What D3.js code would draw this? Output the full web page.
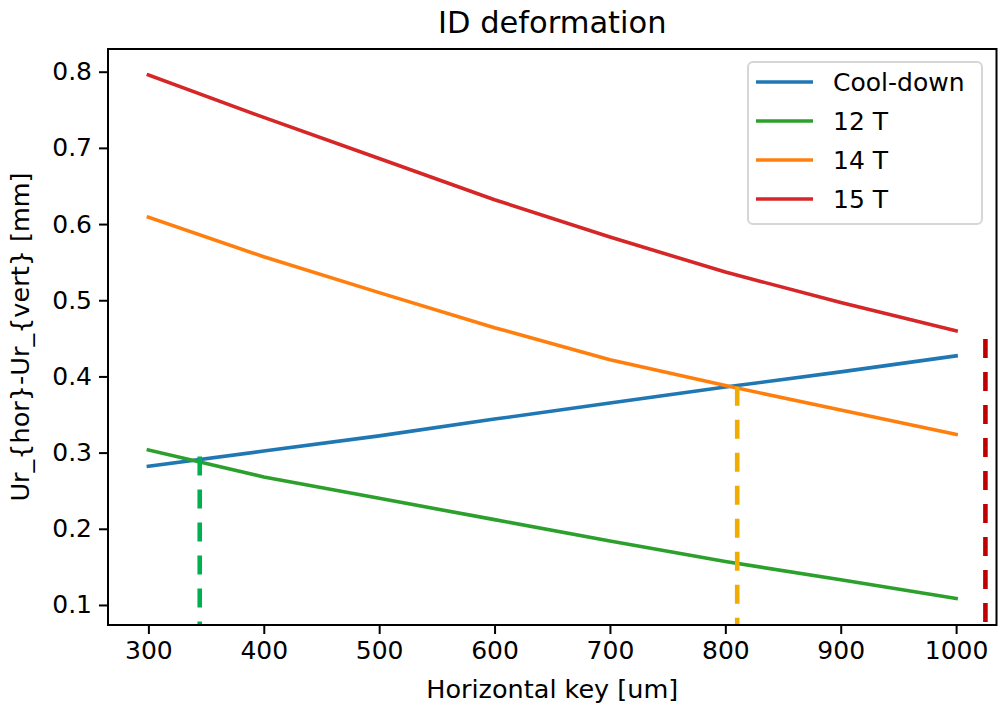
<!DOCTYPE html>
<html>
<head>
<meta charset="utf-8">
<script src="https://cdn.jsdelivr.net/npm/d3@7"></script>
<style>
  body { margin: 0; background: #fff; }
  svg text { font-family: 'DejaVu Sans', sans-serif; }
</style>
</head>
<body>
<script>
// horizontal key positions [um]
var keyX = [300, 400, 500, 600, 700, 800, 900, 1000]

// Ur_hor - Ur_vert [mm]
var coolDown = [0.282, 0.302, 0.322, 0.344, 0.365, 0.386, 0.406, 0.427]
var t12 = [0.3035, 0.268, 0.240, 0.212, 0.184, 0.157, 0.133, 0.1085]
var t14 = [0.609, 0.557, 0.510, 0.464, 0.422, 0.388, 0.356, 0.324]
var t15 = [0.7957, 0.740, 0.686, 0.632, 0.583, 0.537, 0.497, 0.460]

var seriesNames = ['Cool-down', '12 T', '14 T', '15 T']
var seriesColors = ['#1f77b4', '#2ca02c', '#ff7f0e', '#d62728']
var seriesValues = [coolDown, t12, t14, t15]

// vertical dashed markers: key position and top value
var markX = [344.5, 810.3, 1025.4]
var markTop = [0.295, 0.3866, 0.449]
var markColors = ['#00b050', '#f0ad00', '#c00000']

var xTicks = [300, 400, 500, 600, 700, 800, 900, 1000]
var yTicks = [0.1, 0.2, 0.3, 0.4, 0.5, 0.6, 0.7, 0.8]

var W = 999, H = 707
var mLeft = 108, mRight = 996.5, mTop = 49, mBottom = 625

var svg = d3.select('body').append('svg').attr('width', W).attr('height', H)

var x = d3.scaleLinear().domain([265, 1035]).range([mLeft, mRight])
var y = d3.scaleLinear().domain([0.0737, 0.8298]).range([mBottom, mTop])

svg.append('defs').append('clipPath').attr('id', 'clip')
  .append('rect').attr('x', mLeft).attr('y', mTop).attr('width', mRight - mLeft).attr('height', mBottom - mTop)

var plot = svg.append('g').attr('clip-path', 'url(#clip)')

var line = d3.line().x(function (d) { return x(d[0]) }).y(function (d) { return y(d[1]) })

seriesValues.forEach(function (vals, i) {
  plot.append('path')
    .datum(keyX.map(function (k, j) { return [k, vals[j]] }))
    .attr('d', line)
    .attr('fill', 'none')
    .attr('stroke', seriesColors[i])
    .attr('stroke-width', 3.6)
    .attr('stroke-linecap', 'square')
    .attr('stroke-linejoin', 'round')
})

// dashed markers, drawn from top down so the dash starts at the top
markX.forEach(function (mx, i) {
  plot.append('line')
    .attr('x1', x(mx)).attr('x2', x(mx))
    .attr('y1', y(markTop[i])).attr('y2', y(0.05))
    .attr('stroke', markColors[i])
    .attr('stroke-width', 4.6)
    .attr('stroke-dasharray', '19,14')
})

// axes
var xAxis = d3.axisBottom(x).tickValues(xTicks).tickSize(9).tickPadding(7).tickFormat(d3.format('d'))
var yAxis = d3.axisLeft(y).tickValues(yTicks).tickSize(9).tickPadding(7).tickFormat(d3.format('.1f'))

var gx = svg.append('g').attr('transform', 'translate(0,' + mBottom + ')').call(xAxis)
var gy = svg.append('g').attr('transform', 'translate(' + mLeft + ',0)').call(yAxis)
;[gx, gy].forEach(function (g) {
  g.attr('font-family', null).attr('font-size', null)
  g.select('.domain').remove()
  g.selectAll('.tick line').attr('stroke', '#000').attr('stroke-width', 2)
  g.selectAll('.tick text').attr('fill', '#000').style('font-size', '25px')
})

svg.append('rect')
  .attr('x', mLeft).attr('y', mTop).attr('width', mRight - mLeft).attr('height', mBottom - mTop)
  .attr('fill', 'none').attr('stroke', '#000').attr('stroke-width', 2)

// title and labels
svg.append('text').attr('x', (mLeft + mRight) / 2).attr('y', 33).attr('text-anchor', 'middle')
  .style('font-size', '30.5px').text('ID deformation')
svg.append('text').attr('x', (mLeft + mRight) / 2).attr('y', 698).attr('text-anchor', 'middle')
  .style('font-size', '25.5px').text('Horizontal key [um]')
svg.append('text').attr('transform', 'translate(29,' + ((mTop + mBottom) / 2) + ') rotate(-90)')
  .attr('text-anchor', 'middle').style('font-size', '25.5px').text('Ur_{hor}-Ur_{vert} [mm]')

// legend
var lg = svg.append('g')
lg.append('rect').attr('x', 748).attr('y', 62).attr('width', 234).attr('height', 162).attr('rx', 5)
  .attr('fill', '#fff').attr('fill-opacity', 0.8).attr('stroke', '#d6d6d6').attr('stroke-width', 2)
seriesNames.forEach(function (name, i) {
  var ry = 82 + i * 39
  lg.append('line').attr('x1', 756).attr('x2', 813).attr('y1', ry).attr('y2', ry)
    .attr('stroke', seriesColors[i]).attr('stroke-width', 3.6)
  lg.append('text').attr('x', 833).attr('y', ry + 9).style('font-size', '25px').text(name)
})
</script>
</body>
</html>
